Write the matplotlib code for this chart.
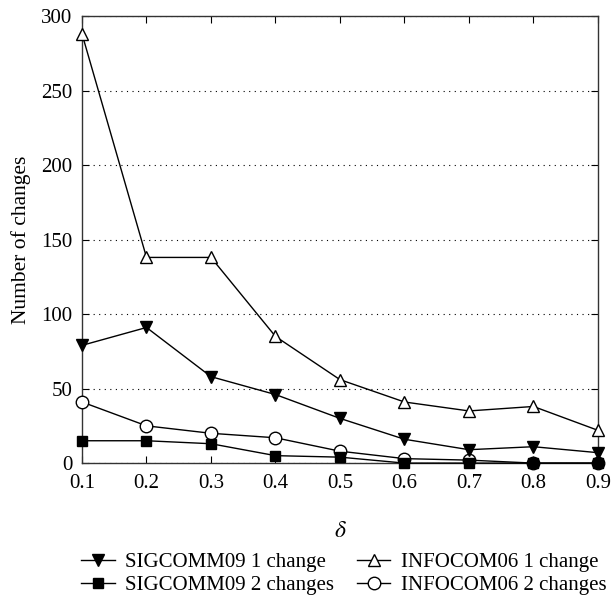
import matplotlib
matplotlib.use("Agg")
import matplotlib.pyplot as plt

delta = [0.1, 0.2, 0.3, 0.4, 0.5, 0.6, 0.7, 0.8, 0.9]
sigcomm_1 = [79, 91, 58, 46, 30, 16, 9, 11, 7]
sigcomm_2 = [15, 15, 13, 5, 4, 0, 0, 0, 0]
infocom_1 = [288, 138, 138, 85, 56, 41, 35, 38, 22]
infocom_2 = [41, 25, 20, 17, 8, 3, 2, 0, 0]

plt.rcParams['font.family'] = ['Liberation Serif', 'DejaVu Serif']
plt.rcParams['mathtext.fontset'] = 'stix'

fig = plt.figure(figsize=(6.12, 6.03), dpi=100)
ax = fig.add_axes([0.134, 0.232, 0.843, 0.7415])

lw = 1.0
ms = 9
i1, = ax.plot(delta, infocom_1, color='black', lw=lw, marker='^', ms=ms,
              mfc='white', mec='black', label='INFOCOM06 1 change',
              clip_on=False, zorder=3)
i2, = ax.plot(delta, infocom_2, color='black', lw=lw, marker='o', ms=ms,
              mfc='white', mec='black', label='INFOCOM06 2 changes',
              clip_on=False, zorder=3)
s1, = ax.plot(delta, sigcomm_1, color='black', lw=lw, marker='v', ms=ms,
              mfc='black', mec='black', label='SIGCOMM09 1 change',
              clip_on=False, zorder=4)
s2, = ax.plot(delta, sigcomm_2, color='black', lw=lw, marker='s', ms=7,
              mfc='black', mec='black', label='SIGCOMM09 2 changes',
              clip_on=False, zorder=4)

ax.set_xlim(0.1, 0.9)
ax.set_ylim(0, 300)
ax.set_xticks(delta)
ax.set_xticklabels([f"{d:.1f}" for d in delta])
ax.set_yticks(range(0, 301, 50))
ax.yaxis.grid(True, linestyle=(0, (1, 4)), color='black', lw=0.8)
ax.tick_params(direction='in', top=True, right=True, labelsize=15, length=5)
ax.tick_params(axis='x', pad=8)
ax.tick_params(axis='y', pad=7)
for sp in ax.spines.values():
    sp.set_linewidth(1.0)
    sp.set_color('#333333')

ax.set_xlabel(r'$\delta$', fontsize=17, labelpad=20)
ax.set_ylabel('Number of changes', fontsize=15.5, labelpad=7)

fig.legend(handles=[s1, s2, i1, i2], loc='center left', ncol=2,
           bbox_to_anchor=(0.133, 0.048), frameon=False, fontsize=15,
           borderpad=0, borderaxespad=0,
           handlelength=1.6, columnspacing=1.1, labelspacing=0.15,
           handletextpad=0.5)

fig.savefig('out.png', dpi=100)
